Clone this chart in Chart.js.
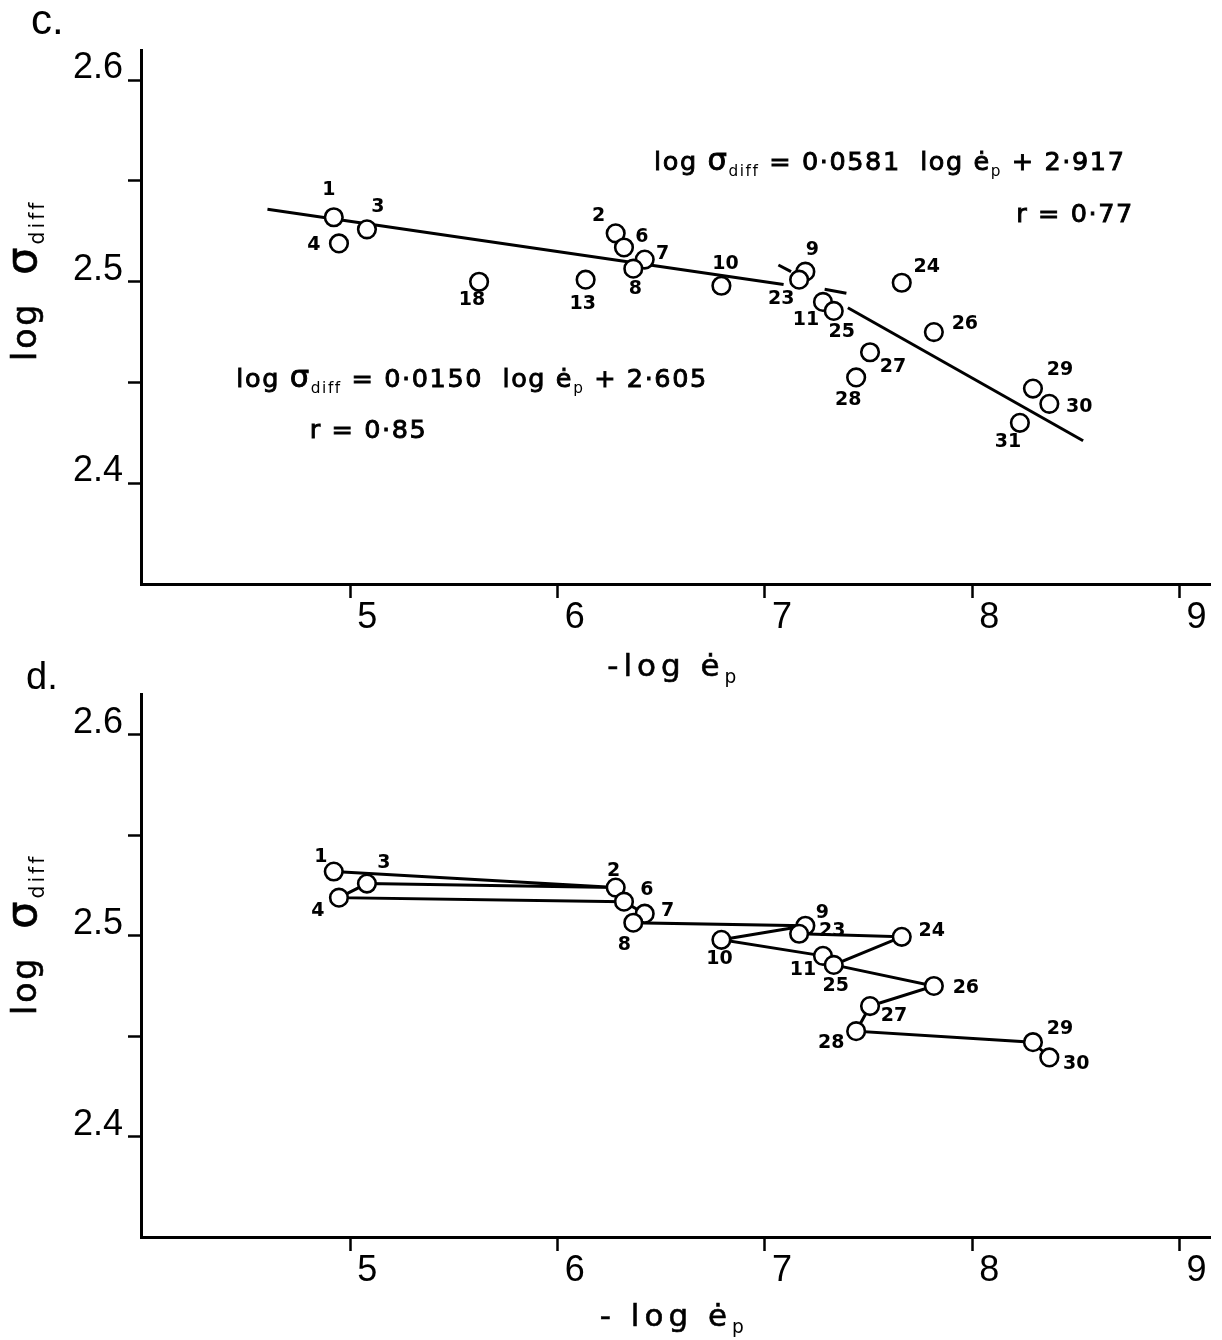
<!DOCTYPE html>
<html>
<head>
<meta charset="utf-8">
<script src="https://cdn.jsdelivr.net/npm/chart.js@4.4.1/dist/chart.umd.min.js"></script>
<style>
  html, body { margin: 0; padding: 0; background: #fff; }
  #wrap { position: relative; width: 1222px; height: 1340px; overflow: hidden; }
  .panel { position: absolute; left: 0; width: 1222px; height: 700px; }
  #panelC { top: 0; }
  #panelD { top: 640px; }
</style>
</head>
<body>
<div id="wrap">
  <div class="panel" id="panelC"><canvas id="chartC" width="1222" height="700"></canvas></div>
  <div class="panel" id="panelD"><canvas id="chartD" width="1222" height="700"></canvas></div>
</div>
<script>
// specimen numbers with -log strain rate and log differential stress
const sampleIds  = [1, 2, 3, 4, 6, 7, 8, 9, 10, 11, 13, 18, 23, 24, 25, 26, 27, 28, 29, 30, 31];
const negLogRate = [4.92, 6.28, 5.08, 4.945, 6.32, 6.42, 6.365, 7.195, 6.79, 7.28, 6.135, 5.621, 7.165, 7.66, 7.332, 7.815, 7.507, 7.44, 8.293, 8.372, 8.23];
const logStress  = [2.532, 2.524, 2.526, 2.519, 2.517, 2.511, 2.5065, 2.505, 2.498, 2.490, 2.501, 2.500, 2.501, 2.4995, 2.4855, 2.475, 2.465, 2.4525, 2.447, 2.4394, 2.430];

// panel d: plotted specimens and the runs joined in sequence
const shownInD = [1, 2, 3, 4, 6, 7, 8, 9, 10, 11, 23, 24, 25, 26, 27, 28, 29, 30];
const pathRuns = [[1, 2, 3, 4, 6, 7, 8, 9, 10, 11], [23, 24, 25, 26, 27, 28, 29, 30]];

// regression fits: log s = slope * log e + intercept, drawn over [from, to] of -log e
const fitSlopes     = [0.0150, 0.0581];
const fitIntercepts = [2.605, 2.917];
const fitFrom       = [4.6, 7.40];
const fitTo         = [7.09, 8.535];
const fitR          = ['0·85', '0·77'];

// short pen strokes near specimens 23 and 11
const strokeA = [[7.065, 2.5083], [7.126, 2.5050]];
const strokeB = [[7.288, 2.4963], [7.393, 2.4943]];

// axes
const xTickValues = [5, 6, 7, 8, 9];
const yTickValues = [2.4, 2.45, 2.5, 2.55, 2.6];
const yTickLabels = ['2.4', '', '2.5', '', '2.6'];

const FONT_AXIS = "'Liberation Sans', Arial, sans-serif";
const FONT_NOTE = "'DejaVu Sans', sans-serif";

// where each specimen number sits relative to its circle (px)
const labelOffsetC = {
  1: [-5, -27], 2: [-17, -17], 3: [11, -22], 4: [-25, 2], 6: [18, -10], 7: [18, -6],
  8: [2, 20], 9: [7, -22], 10: [4, -22], 11: [-17, 18], 13: [-3, 24], 18: [-7, 18],
  23: [-18, 19], 24: [25, -16], 25: [8, 21], 26: [31, -8], 27: [23, 15], 28: [-8, 23],
  29: [27, -18], 30: [30, 3], 31: [-12, 19]
};
const labelOffsetD = {
  1: [-13, -14], 2: [-2, -17], 3: [17, -21], 4: [-21, 13], 6: [23, -12], 7: [23, -3],
  8: [-9, 22], 9: [17, -13], 10: [-2, 19], 11: [-20, 14], 23: [33, -3], 24: [30, -6],
  25: [2, 21], 26: [32, 2], 27: [24, 10], 28: [-25, 12], 29: [27, -13], 30: [27, 7]
};

Chart.defaults.color = '#000';
Chart.defaults.font.family = FONT_AXIS;

function pointsFor(ids) {
  return ids.map(id => {
    const i = sampleIds.indexOf(id);
    return { x: negLogRate[i], y: logStress[i], id: id };
  });
}

function fitData(k) {
  return [fitFrom[k], fitTo[k]].map(x => ({ x: x, y: fitIntercepts[k] - fitSlopes[k] * x }));
}

// draw a run of text pieces: [text, size factor, baseline shift factor]
function drawRich(ctx, pieces, x, y, o) {
  const track = o.track || 0;
  const runs = pieces.map(([t, k = 1, dy = 0]) => ({ t, k, size: o.size * k, dy: dy * o.size }));
  const fontOf = r => `${o.weight || 'normal'} ${r.size}px ${o.family}`;
  let w = 0;
  runs.forEach(r => {
    ctx.font = fontOf(r);
    for (const ch of r.t) w += ctx.measureText(ch).width + track;
  });
  w -= track;
  let cx = o.align === 'center' ? x - w / 2 : o.align === 'right' ? x - w : x;
  ctx.textAlign = 'left';
  ctx.textBaseline = 'alphabetic';
  ctx.strokeStyle = '#000';
  runs.forEach(r => {
    ctx.font = fontOf(r);
    // thin outline thickens the strokes; skipped on the small subscripts
    const lw = r.k < 1 ? 0 : (o.heavy || 0);
    ctx.lineWidth = lw;
    for (const ch of r.t) {
      ctx.fillText(ch, cx, y + r.dy);
      if (lw) ctx.strokeText(ch, cx, y + r.dy);
      cx += ctx.measureText(ch).width + track;
    }
  });
}

const eqPieces = (slope, icpt) => [
  ['log '], ['σ', 1.2], ['diff', 0.6, 0.22],
  [' = ' + slope + '  log '], ['ė'], ['p', 0.6, 0.22], [' + ' + icpt]
];

// specimen numbers, panel letter, axis titles and equations
const decorations = {
  id: 'decorations',
  afterDatasetsDraw(chart, args, opts) {
    const ctx = chart.ctx;
    const sx = chart.scales.x, sy = chart.scales.y;
    ctx.save();
    ctx.fillStyle = '#000';

    const meta = chart.getDatasetMeta(0);
    meta.data.forEach((el, i) => {
      const id = chart.data.datasets[0].data[i].id;
      const off = opts.offsets[id] || [0, -20];
      ctx.font = `bold 19px ${FONT_NOTE}`;
      ctx.textAlign = 'center';
      ctx.textBaseline = 'middle';
      ctx.fillText(String(id), el.x + off[0], el.y + off[1]);
    });

    // panel letter
    ctx.font = `${opts.letterSize}px ${FONT_AXIS}`;
    ctx.textAlign = 'left';
    ctx.textBaseline = 'alphabetic';
    ctx.fillText(opts.letter, opts.letterPos[0], opts.letterPos[1]);

    // y title, rotated
    ctx.save();
    ctx.translate(36, sy.getPixelForValue(2.5));
    ctx.rotate(-Math.PI / 2);
    drawRich(ctx, [['log  '], ['σ', 1.3], ['diff', 0.62, 0.25]], 0, 0,
      { size: 33, family: FONT_NOTE, align: 'center', track: 3, heavy: 0.6 });
    ctx.restore();

    // x title
    drawRich(ctx, opts.xTitle, (chart.chartArea.left + chart.chartArea.right) / 2 - 4, opts.xTitleBase,
      { size: 31, family: FONT_NOTE, align: 'center', track: 5, heavy: 0.6 });

    (opts.notes || []).forEach(n => {
      drawRich(ctx, n.pieces, sx.getPixelForValue(n.x), sy.getPixelForValue(n.y),
        { size: 25.5, family: FONT_NOTE, align: n.align || 'left', track: 1.6, heavy: 0.9 });
    });
    ctx.restore();
  }
};

function makeChart(canvasId, cfg) {
  const pointSet = {
    type: 'scatter',
    data: pointsFor(cfg.ids),
    pointRadius: 8.8,
    pointHoverRadius: 8.8,
    pointBorderWidth: 2.6,
    borderColor: '#000',
    backgroundColor: '#fff',
    showLine: false
  };
  const lineSets = cfg.lines.map(d => ({
    type: 'scatter',
    data: d,
    showLine: true,
    borderColor: '#000',
    borderWidth: 3,
    pointRadius: 0,
    fill: false
  }));

  return new Chart(document.getElementById(canvasId), {
    type: 'scatter',
    data: { datasets: [pointSet, ...lineSets] },
    options: {
      responsive: false,
      animation: false,
      events: [],
      layout: { padding: { left: 0, right: 3, top: cfg.top, bottom: 0 } },
      scales: {
        x: {
          type: 'linear',
          min: 3.99,
          max: 9.15,
          afterBuildTicks: s => { s.ticks = xTickValues.map(v => ({ value: v })); },
          afterFit: s => { s.height = cfg.xAxisHeight; },
          grid: { drawOnChartArea: false, drawTicks: true, tickLength: 14, tickColor: '#000', tickWidth: 2.5 },
          border: { display: true, color: '#000', width: 3 },
          ticks: {
            font: { size: 36, lineHeight: 1 },
            padding: 2,
            labelOffset: 17,
            maxRotation: 0,
            autoSkip: false,
            callback: v => String(v)
          }
        },
        y: {
          type: 'linear',
          min: 2.35,
          max: cfg.yMax,
          afterBuildTicks: s => { s.ticks = yTickValues.map(v => ({ value: v })); },
          afterFit: s => { s.width = 141; },
          grid: { drawOnChartArea: false, drawTicks: true, tickLength: 13, tickColor: '#000', tickWidth: 2.5 },
          border: { display: true, color: '#000', width: 3 },
          ticks: {
            font: { size: 36, lineHeight: 1 },
            padding: 5,
            labelOffset: -12,
            autoSkip: false,
            callback: (v, i) => yTickLabels[i]
          }
        }
      },
      plugins: {
        legend: { display: false },
        tooltip: { enabled: false },
        decorations: cfg.decor
      }
    },
    plugins: [decorations]
  });
}

document.addEventListener('DOMContentLoaded', () => {
  const toPts = seg => seg.map(([x, y]) => ({ x, y }));

  // c. all specimens with the two regression lines
  makeChart('chartC', {
    ids: sampleIds,
    lines: [fitData(0), fitData(1), toPts(strokeA), toPts(strokeB)],
    top: 50,
    xAxisHeight: 116,
    yMax: 2.615,
    decor: {
      offsets: labelOffsetC,
      letter: 'c.',
      letterSize: 42,
      letterPos: [31, 34],
      xTitle: [['-log '], ['ė'], ['p', 0.6, 0.22]],
      xTitleBase: 676,
      notes: [
        { pieces: eqPieces('0·0581', '2·917'), x: 6.465, y: 2.5555 },
        { pieces: [['r = ' + fitR[1]]], x: 8.772, y: 2.5297, align: 'right' },
        { pieces: eqPieces('0·0150', '2·605'), x: 4.45, y: 2.4478 },
        { pieces: [['r = ' + fitR[0]]], x: 4.804, y: 2.4225 }
      ]
    }
  });

  // d. specimens joined in sequence
  makeChart('chartD', {
    ids: shownInD,
    lines: pathRuns.map(pointsFor),
    top: 54,
    xAxisHeight: 103,
    yMax: 2.6204,
    decor: {
      offsets: labelOffsetD,
      letter: 'd.',
      letterSize: 38,
      letterPos: [26, 49],
      xTitle: [['- log '], ['ė'], ['p', 0.6, 0.22]],
      xTitleBase: 686
    }
  });
});
</script>
</body>
</html>
